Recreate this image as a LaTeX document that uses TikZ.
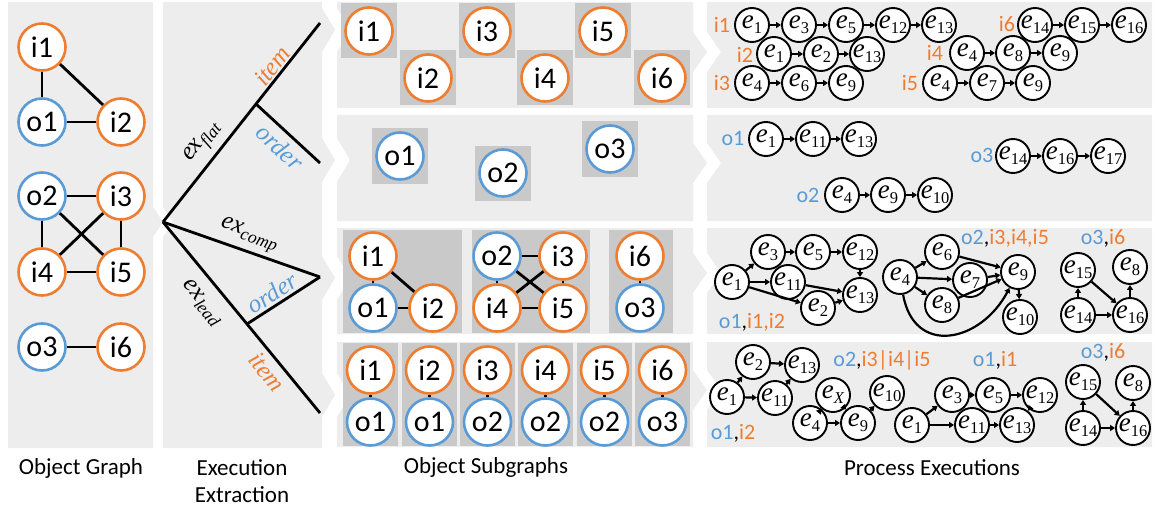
\documentclass[tikz,border=0pt]{standalone}
\usepackage{fontspec}
\setmainfont{Carlito}
\newfontfamily\mf{Liberation Serif}
\newcommand\evl[1]{{\mf\itshape e}\raisebox{-0.18em}{\mf\fontsize{16.5}{17}\selectfont #1}}
\newcommand\exl[1]{{\mf\itshape ex}\raisebox{-0.2em}{\mf\itshape\fontsize{17.5}{18}\selectfont #1}}
\newcommand\itl[1]{{\mf\itshape #1}}
\usetikzlibrary{arrows.meta}
\definecolor{orng}{HTML}{ED7D31}
\definecolor{blu}{HTML}{5B9BD5}
\definecolor{pan}{HTML}{EDEDED}
\definecolor{boxg}{HTML}{C9C9C9}
\begin{document}
\begin{tikzpicture}[x=1pt,y=1pt,
  obj/.style={circle,fill=white,line width=2.6pt,minimum size=47pt,inner sep=0pt,font=\fontsize{30}{32}\selectfont},
  itm/.style={obj,draw=orng},
  ord/.style={obj,draw=blu},
  ev/.style={circle,draw=black,fill=white,line width=1.9pt,minimum size=34pt,inner sep=0pt,font=\fontsize{27}{29}\selectfont},
  edge/.style={line width=2.8pt},
  arr/.style={line width=2.2pt,-{Triangle[length=5pt,width=6pt]}},
  lbl/.style={font=\fontsize{22}{24}\selectfont,inner sep=0pt},
  captxt/.style={font=\fontsize{23}{27}\selectfont,align=center},
  tree/.style={line width=2.8pt},
  tl/.style={font=\fontsize{25}{27}\selectfont,inner sep=0pt},
]
\useasboundingbox (0,0) rectangle (1156,-508);
% ---- panels
\fill[pan] (8,-2) -- (153,-2) -- (153,-207) -- (163,-222) -- (153,-237) -- (153,-448) -- (8,-448) -- cycle;
\fill[pan] (163,-2) -- (322,-2) -- (322,-8) -- (335,-30) -- (322,-52) -- (322,-138) -- (335,-160) -- (322,-182) -- (322,-256) -- (335,-278) -- (322,-300) -- (322,-373) -- (335,-395) -- (322,-417) -- (322,-448) -- (163,-448) -- (163,-237) -- (173,-222) -- (163,-207) -- cycle;
\fill[pan] (337,-2) -- (693,-2) -- (693,-32) -- (707,-52) -- (693,-72) -- (693,-108) -- (337,-108) -- (337,-52) -- (350,-30) -- (337,-8) -- cycle;
\fill[pan] (337,-115) -- (693,-115) -- (693,-143) -- (707,-163) -- (693,-183) -- (693,-221) -- (337,-221) -- (337,-182) -- (350,-160) -- (337,-138) -- cycle;
\fill[pan] (337,-228) -- (693,-228) -- (693,-253) -- (707,-273) -- (693,-293) -- (693,-334) -- (337,-334) -- (337,-300) -- (350,-278) -- (337,-256) -- cycle;
\fill[pan] (337,-342) -- (693,-342) -- (693,-370) -- (707,-390) -- (693,-410) -- (693,-447) -- (337,-447) -- (337,-417) -- (350,-395) -- (337,-373) -- cycle;
\fill[pan] (707,-2) -- (1152,-2) -- (1152,-108) -- (707,-108) -- (707,-72) -- (721,-52) -- (707,-32) -- cycle;
\fill[pan] (707,-115) -- (1152,-115) -- (1152,-221) -- (707,-221) -- (707,-183) -- (721,-163) -- (707,-143) -- cycle;
\fill[pan] (707,-228) -- (1152,-228) -- (1152,-334) -- (707,-334) -- (707,-293) -- (721,-273) -- (707,-253) -- cycle;
\fill[pan] (707,-342) -- (1152,-342) -- (1152,-447) -- (707,-447) -- (707,-410) -- (721,-390) -- (707,-370) -- cycle;

% ---- object graph
\node[itm] (gi1) at (42,-47) {i1};
\node[ord] (go1) at (42,-122) {o1};
\node[itm] (gi2) at (121,-122) {i2};
\node[ord] (go2) at (42,-196) {o2};
\node[itm] (gi3) at (121,-196) {i3};
\node[itm] (gi4) at (42,-272) {i4};
\node[itm] (gi5) at (121,-272) {i5};
\node[ord] (go3) at (42,-347) {o3};
\node[itm] (gi6) at (121,-347) {i6};
\draw[edge] (gi1) -- (go1); \draw[edge] (gi1) -- (gi2); \draw[edge] (go1) -- (gi2);
\draw[edge] (go2) -- (gi3); \draw[edge] (go2) -- (gi4); \draw[edge] (go2) -- (gi5);
\draw[edge] (gi3) -- (gi4); \draw[edge] (gi3) -- (gi5); \draw[edge] (gi4) -- (gi5);
\draw[edge] (go3) -- (gi6);

% ---- execution extraction tree
\coordinate (root) at (163,-222);
\coordinate (tA) at (320,-23);
\coordinate (bA) at (256,-104);
\coordinate (tB) at (320,-163);
\coordinate (tC) at (320,-277);
\coordinate (bB) at (247,-324);
\coordinate (tD) at (320,-413);
\draw[tree] (root) -- (bA) -- (tA);
\draw[tree] (bA) -- (tB);
\draw[tree] (root) -- (tC);
\draw[tree] (root) -- (bB) -- (tD);
\draw[tree] (bB) -- (tC);
\node[tl,rotate=51.7] (lx1) at (203,-143) {\exl{flat}};
\node[tl,rotate=51.7,text=orng] (lx2) at (272,-66) {\itl{item}};
\node[tl,rotate=-42.7,text=blu] (lx3) at (280,-147) {\itl{order}};
\node[tl,rotate=-19.3] (lx4) at (249,-235) {\exl{comp}};
\node[tl,rotate=-50.5] (lx5) at (202,-303) {\exl{lead}};
\node[tl,rotate=32.8,text=blu] (lx6) at (272,-293) {\itl{order}};
\node[tl,rotate=-50.6,text=orng] (lx7) at (267,-372) {\itl{item}};

% ---- row 1 subgraphs
\foreach \x/\y in {369/31,428/78,487/31,545/78,603/31,662/78}
  \fill[boxg] ({\x-28},{-\y+27.5}) rectangle ({\x+28},{-\y-27.5});
\node[itm] (a1) at (369,-31) {i1};
\node[itm] (a2) at (428,-78) {i2};
\node[itm] (a3) at (487,-31) {i3};
\node[itm] (a4) at (545,-78) {i4};
\node[itm] (a5) at (603,-31) {i5};
\node[itm] (a6) at (662,-78) {i6};
% ---- row 2 subgraphs
\foreach \x/\y in {400/156,503/173,610/149}
  \fill[boxg] ({\x-28},{-\y+27.5}) rectangle ({\x+28},{-\y-27.5});
\node[ord] (b1) at (400,-156) {o1};
\node[ord] (b2) at (503,-173) {o2};
\node[ord] (b3) at (610,-149) {o3};
% ---- row 3 subgraphs
\fill[boxg] (343,-230) rectangle (462,-333);
\fill[boxg] (472,-230) rectangle (590,-333);
\fill[boxg] (609,-230) rectangle (673,-333);
\node[itm] (ci1) at (373,-256) {i1};
\node[ord] (co1) at (373,-308) {o1};
\node[itm] (ci2) at (433,-308) {i2};
\node[ord] (co2) at (497,-256) {o2};
\node[itm] (ci3) at (563,-256) {i3};
\node[itm] (ci4) at (497,-308) {i4};
\node[itm] (ci5) at (563,-308) {i5};
\node[itm] (ci6) at (640,-256) {i6};
\node[ord] (co3) at (640,-308) {o3};
\draw[edge] (ci1) -- (co1); \draw[edge] (ci1) -- (ci2); \draw[edge] (co1) -- (ci2);
\draw[edge] (co2) -- (ci3); \draw[edge] (co2) -- (ci4); \draw[edge] (co2) -- (ci5);
\draw[edge] (ci3) -- (ci4); \draw[edge] (ci3) -- (ci5); \draw[edge] (ci4) -- (ci5);
\draw[edge] (ci6) -- (co3);
% ---- row 4 subgraphs
\foreach \x in {370.5,429.5,487.5,545.5,604.5,662.5}
  \fill[boxg] ({\x-27.5},-343) rectangle ({\x+27.5},-446);
\node[itm] (d1) at (370.5,-370) {i1}; \node[ord] (e1) at (370.5,-422) {o1};
\node[itm] (d2) at (429.5,-370) {i2}; \node[ord] (e2) at (429.5,-422) {o1};
\node[itm] (d3) at (487.5,-370) {i3}; \node[ord] (e3) at (487.5,-422) {o2};
\node[itm] (d4) at (545.5,-370) {i4}; \node[ord] (e4) at (545.5,-422) {o2};
\node[itm] (d5) at (604.5,-370) {i5}; \node[ord] (e5) at (604.5,-422) {o2};
\node[itm] (d6) at (662.5,-370) {i6}; \node[ord] (e6) at (662.5,-422) {o3};
\foreach \k in {1,...,6} \draw[edge] (d\k) -- (e\k);

% ---- process executions row 1
\node[lbl,text=orng] (L1) at (722,-25) {i1};
\node[ev] (A1) at (752,-25) {\evl{1}};
\node[ev] (A2) at (799,-25) {\evl{3}};
\node[ev] (A3) at (846,-25) {\evl{5}};
\node[ev] (A4) at (893,-25) {\evl{12}};
\node[ev] (A5) at (939,-25) {\evl{13}};
\draw[arr] (A1) -- (A2); \draw[arr] (A2) -- (A3); \draw[arr] (A3) -- (A4); \draw[arr] (A4) -- (A5);
\node[lbl,text=orng] (L6) at (1007,-24) {i6};
\node[ev] (F1) at (1035,-25) {\evl{14}};
\node[ev] (F2) at (1082,-25) {\evl{15}};
\node[ev] (F3) at (1129,-25) {\evl{16}};
\draw[arr] (F1) -- (F2); \draw[arr] (F2) -- (F3);
\node[lbl,text=orng] (L2) at (745,-55) {i2};
\node[ev] (B1) at (774,-54) {\evl{1}};
\node[ev] (B2) at (821,-54) {\evl{2}};
\node[ev] (B3) at (867,-54) {\evl{13}};
\draw[arr] (B1) -- (B2); \draw[arr] (B2) -- (B3);
\node[lbl,text=orng] (L4) at (935,-53) {i4};
\node[ev] (D1) at (967,-53) {\evl{4}};
\node[ev] (D2) at (1013,-53) {\evl{8}};
\node[ev] (D3) at (1060,-53) {\evl{9}};
\draw[arr] (D1) -- (D2); \draw[arr] (D2) -- (D3);
\node[lbl,text=orng] (L3) at (722,-83) {i3};
\node[ev] (C1) at (752,-83) {\evl{4}};
\node[ev] (C2) at (799,-83) {\evl{6}};
\node[ev] (C3) at (846,-83) {\evl{9}};
\draw[arr] (C1) -- (C2); \draw[arr] (C2) -- (C3);
\node[lbl,text=orng] (L5) at (910,-83) {i5};
\node[ev] (E1) at (940,-83) {\evl{4}};
\node[ev] (E2) at (987,-83) {\evl{7}};
\node[ev] (E3) at (1033,-83) {\evl{9}};
\draw[arr] (E1) -- (E2); \draw[arr] (E2) -- (E3);

% ---- row 2
\node[lbl,text=blu] (M1) at (733,-138) {o1};
\node[ev] (G1) at (766,-139) {\evl{1}};
\node[ev] (G2) at (813,-139) {\evl{11}};
\node[ev] (G3) at (859,-139) {\evl{13}};
\draw[arr] (G1) -- (G2); \draw[arr] (G2) -- (G3);
\node[lbl,text=blu] (M2) at (808,-195) {o2};
\node[ev] (H1) at (842,-195) {\evl{4}};
\node[ev] (H2) at (888,-195) {\evl{9}};
\node[ev] (H3) at (935,-195) {\evl{10}};
\draw[arr] (H1) -- (H2); \draw[arr] (H2) -- (H3);
\node[lbl,text=blu] (M3) at (982,-155) {o3};
\node[ev] (K1) at (1013,-156) {\evl{14}};
\node[ev] (K2) at (1060,-156) {\evl{16}};
\node[ev] (K3) at (1108,-156) {\evl{17}};
\draw[arr] (K1) -- (K2); \draw[arr] (K2) -- (K3);

% ---- row 3
\node[ev] (p1) at (732,-282) {\evl{1}};
\node[ev] (p3) at (768,-252) {\evl{3}};
\node[ev] (p5) at (813,-252) {\evl{5}};
\node[ev] (p12) at (860,-252) {\evl{12}};
\node[ev] (p11) at (788,-282) {\evl{11}};
\node[ev] (p13) at (860,-295) {\evl{13}};
\node[ev] (p2) at (818,-308) {\evl{2}};
\draw[arr] (p1) -- (p3); \draw[arr] (p3) -- (p5); \draw[arr] (p5) -- (p12); \draw[arr] (p12) -- (p13);
\draw[arr] (p1) -- (p11); \draw[arr] (p11) -- (p13); \draw[arr] (p1) -- (p2); \draw[arr] (p2) -- (p13);
\node[lbl] (N1) at (752,-322) {\textcolor{blu}{o1},\textcolor{orng}{i1,i2}};
\node[ev] (q4) at (900,-277) {\evl{4}};
\node[ev] (q6) at (942,-252) {\evl{6}};
\node[ev] (q7) at (970,-280) {\evl{7}};
\node[ev] (q8) at (942,-305) {\evl{8}};
\node[ev] (q9) at (1018,-272) {\evl{9}};
\node[ev] (q10) at (1020,-317) {\evl{10}};
\draw[arr] (q4) -- (q6); \draw[arr] (q4) -- (q7); \draw[arr] (q4) -- (q8);
\draw[arr] (q6) -- (q9); \draw[arr] (q7) -- (q9); \draw[arr] (q8) -- (q9); \draw[arr] (q9) -- (q10);
\draw[arr] (q4) to[out=-80,in=-118,looseness=1.5] (q9);
\node[lbl] (N2) at (1005,-238) {\textcolor{blu}{o2},\textcolor{orng}{i3,i4,i5}};
\node[ev] (r15) at (1078,-270) {\evl{15}};
\node[ev] (r8) at (1130,-267) {\evl{8}};
\node[ev] (r14) at (1078,-315) {\evl{14}};
\node[ev] (r16) at (1130,-315) {\evl{16}};
\draw[arr] (r14) -- (r15); \draw[arr] (r15) -- (r16); \draw[arr] (r14) -- (r16); \draw[arr] (r16) -- (r8);
\node[lbl] (N3) at (1103,-238) {\textcolor{blu}{o3},\textcolor{orng}{i6}};

% ---- row 4
\node[ev] (s1) at (727,-397) {\evl{1}};
\node[ev] (s2) at (753,-362) {\evl{2}};
\node[ev] (s13) at (802,-365) {\evl{13}};
\node[ev] (s11) at (775,-398) {\evl{11}};
\draw[arr] (s1) -- (s2); \draw[arr] (s2) -- (s13); \draw[arr] (s1) -- (s11); \draw[arr] (s11) -- (s13);
\node[lbl] (O1) at (733,-433) {\textcolor{blu}{o1},\textcolor{orng}{i2}};
\node[ev] (t4) at (810,-423) {\evl{4}};
\node[ev] (tX) at (833,-395) {\evl{\itshape X}};
\node[ev] (t9) at (858,-423) {\evl{9}};
\node[ev] (t10) at (887,-393) {\evl{10}};
\draw[arr] (t4) -- (tX); \draw[arr] (tX) -- (t9); \draw[arr] (t4) -- (t9); \draw[arr] (t9) -- (t10);
\node[lbl] (O2) at (882,-360) {\textcolor{blu}{o2},\textcolor{orng}{i3|i4|i5}};
\node[ev] (u1) at (912,-425) {\evl{1}};
\node[ev] (u3) at (952,-395) {\evl{3}};
\node[ev] (u5) at (993,-395) {\evl{5}};
\node[ev] (u12) at (1040,-395) {\evl{12}};
\node[ev] (u11) at (972,-425) {\evl{11}};
\node[ev] (u13) at (1017,-425) {\evl{13}};
\draw[arr] (u1) -- (u3); \draw[arr] (u3) -- (u5); \draw[arr] (u5) -- (u12);
\draw[arr] (u1) -- (u11); \draw[arr] (u11) -- (u13); \draw[arr] (u12) -- (u13);
\node[lbl] (O3) at (995,-360) {\textcolor{blu}{o1},\textcolor{orng}{i1}};
\node[ev] (v15) at (1083,-382) {\evl{15}};
\node[ev] (v8) at (1133,-383) {\evl{8}};
\node[ev] (v14) at (1083,-428) {\evl{14}};
\node[ev] (v16) at (1133,-428) {\evl{16}};
\draw[arr] (v14) -- (v15); \draw[arr] (v15) -- (v16); \draw[arr] (v14) -- (v16); \draw[arr] (v16) -- (v8);
\node[lbl] (O4) at (1103,-352) {\textcolor{blu}{o3},\textcolor{orng}{i6}};

% ---- captions
\node[captxt] (cap1) at (81,-468) {Object Graph};
\node[captxt] (cap2) at (242,-481) {Execution\\Extraction};
\node[captxt] (cap3) at (486,-467) {Object Subgraphs};
\node[captxt] (cap4) at (932,-468) {Process Executions};
\end{tikzpicture}
\end{document}
